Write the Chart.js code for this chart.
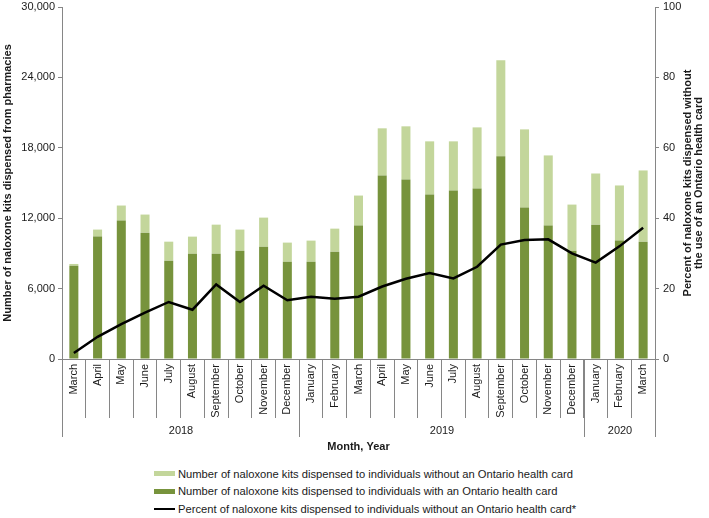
<!DOCTYPE html>
<html>
<head>
<meta charset="utf-8">
<script src="https://cdn.jsdelivr.net/npm/chart.js@4"></script>
<style>
  body { margin: 0; background: #fff; font-family: 'Liberation Sans', Arial, sans-serif; }
  #wrap { position: relative; width: 709px; height: 456px; }
  #legend { position: absolute; left: 154px; top: 465px; font-size: 11.2px; color: #1a1a1a; }
  #legend .row { height: 17.5px; display: flex; align-items: center; }
  #legend .sw { width: 21px; margin-right: 3px; }
</style>
</head>
<body>
<div id="wrap"><canvas id="naloxone-chart" width="709" height="456"></canvas></div>
<div id="legend"></div>
<script>
const months = ['March', 'April', 'May', 'June', 'July', 'August', 'September', 'October', 'November', 'December',
  'January', 'February', 'March', 'April', 'May', 'June', 'July', 'August', 'September', 'October', 'November', 'December',
  'January', 'February', 'March'];
const yearLabels = ['2018', '2019', '2020'];
const yearMonthCounts = [10, 12, 3];

// kits dispensed to people with an Ontario health card (dark bars)
const withCard = [7950, 10430, 11800, 10770, 8380, 8970, 8970, 9230, 9570, 8290,
  8290, 9150, 11370, 15640, 15300, 14020, 14360, 14530, 17270, 12910, 11370, 9230,
  11450, 10090, 10000];
// kits dispensed to people without an Ontario health card (light bars, stacked)
const withoutCard = [150, 600, 1280, 1540, 1620, 1460, 2480, 1800, 2480, 1630,
  1800, 1960, 2560, 4020, 4530, 4530, 4190, 5210, 8200, 6660, 5980, 3930,
  4360, 4700, 6070];
// percent without a health card (line, right axis)
const pctWithout = [1.7, 6.3, 9.9, 13.2, 16.2, 14.0, 21.2, 16.2, 20.8, 16.7,
  17.7, 17.1, 17.7, 20.6, 22.8, 24.4, 22.9, 26.2, 32.5, 33.8, 34.0, 30.0,
  27.4, 32.0, 37.3];

const leftTicks = [0, 6000, 12000, 18000, 24000, 30000];
const rightTicks = [0, 20, 40, 60, 80, 100];

const DARK = '#77933C';
const LIGHT = '#C3D69B';
const AXIS = '#868686';
const TEXT = '#1a1a1a';
const FONT = "'Liberation Sans', Arial, sans-serif";

const seriesNames = [
  'Number of naloxone kits dispensed to individuals without an Ontario health card',
  'Number of naloxone kits dispensed to individuals with an Ontario health card',
  'Percent of naloxone kits dispensed to individuals without an Ontario health card*'
];

// year row + right axis title, drawn from the scales
const extraLabels = {
  id: 'extraLabels',
  afterDraw(chart) {
    const ctx = chart.ctx;
    const x = chart.scales.x;
    const bottom = chart.chartArea.bottom;
    const half = (x.getPixelForValue(1) - x.getPixelForValue(0)) / 2;
    ctx.save();
    ctx.strokeStyle = AXIS;
    ctx.lineWidth = 1;
    ctx.fillStyle = TEXT;
    ctx.font = '11px ' + FONT;
    ctx.textAlign = 'center';
    ctx.textBaseline = 'middle';
    let start = 0;
    yearLabels.forEach((year, i) => {
      const end = start + yearMonthCounts[i] - 1;
      const l = Math.round(x.getPixelForValue(start) - half) + 0.5;
      const r = Math.round(x.getPixelForValue(end) + half) + 0.5;
      ctx.beginPath();
      ctx.moveTo(l, bottom); ctx.lineTo(l, bottom + 78);
      ctx.moveTo(r, bottom); ctx.lineTo(r, bottom + 78);
      ctx.stroke();
      ctx.fillText(year, (l + r) / 2, bottom + 72);
      start = end + 1;
    });

    // right title reads bottom-to-top
    const y2 = chart.scales.y2;
    const cy = (chart.chartArea.top + chart.chartArea.bottom) / 2;
    ctx.font = 'bold 11px ' + FONT;
    ctx.translate(y2.right - 21, cy);
    ctx.rotate(-Math.PI / 2);
    ctx.fillText('Percent of naloxone kits dispensed without', 0, 0);
    ctx.fillText('the use of an Ontario health card', 0, 11);
    ctx.restore();
  }
};

document.addEventListener('DOMContentLoaded', () => {
  const ctx = document.getElementById('naloxone-chart').getContext('2d');
  new Chart(ctx, {
    type: 'bar',
    data: {
      labels: months,
      datasets: [
        {
          type: 'line',
          label: seriesNames[2],
          data: pctWithout,
          yAxisID: 'y2',
          borderColor: '#000',
          borderWidth: 2.5,
          pointRadius: 0,
          tension: 0,
          order: 0
        },
        {
          label: seriesNames[1],
          data: withCard,
          backgroundColor: DARK,
          stack: 'kits',
          categoryPercentage: 1,
          barPercentage: 0.38,
          order: 1
        },
        {
          label: seriesNames[0],
          data: withoutCard,
          backgroundColor: LIGHT,
          stack: 'kits',
          categoryPercentage: 1,
          barPercentage: 0.38,
          order: 1
        }
      ]
    },
    options: {
      responsive: false,
      animation: false,
      layout: { padding: { top: 7, left: 0, right: 0, bottom: 0 } },
      plugins: {
        legend: { display: false },
        tooltip: { enabled: false }
      },
      scales: {
        x: {
          stacked: true,
          grid: { offset: true, drawOnChartArea: false, tickLength: 59, color: AXIS },
          border: { color: AXIS },
          ticks: {
            autoSkip: false, minRotation: 90, maxRotation: 90, padding: -54,
            color: TEXT, font: { family: FONT, size: 11 }
          },
          title: {
            display: true, text: 'Month, Year', color: TEXT,
            font: { family: FONT, size: 11, weight: 'bold' },
            padding: { top: 0, bottom: 2.4 }
          },
          afterFit: s => { s.height = 97; }
        },
        y: {
          stacked: true,
          min: 0, max: 30000,
          afterBuildTicks: s => { s.ticks = leftTicks.map(v => ({ value: v })); },
          grid: { drawOnChartArea: false, tickLength: 4, color: AXIS },
          border: { color: AXIS },
          ticks: {
            padding: 3, color: TEXT, font: { family: FONT, size: 11 },
            callback: v => v.toLocaleString('en-US')
          },
          title: {
            display: true, text: 'Number of naloxone kits dispensed from pharmacies', color: TEXT,
            font: { family: FONT, size: 11, weight: 'bold' },
            padding: { top: 1, bottom: 0 }
          },
          afterFit: s => { s.width = 62; s.paddingTop = 0; s.paddingBottom = 0; }
        },
        y2: {
          position: 'right',
          min: 0, max: 100,
          afterBuildTicks: s => { s.ticks = rightTicks.map(v => ({ value: v })); },
          grid: { drawOnChartArea: false, tickLength: 4, color: AXIS },
          border: { color: AXIS },
          ticks: { padding: 4, color: TEXT, font: { family: FONT, size: 11 } },
          afterFit: s => { s.width = 54; s.paddingTop = 0; s.paddingBottom = 0; }
        }
      }
    },
    plugins: [extraLabels]
  });

  // legend below the chart, stacked like the original
  const legend = document.getElementById('legend');
  const swatches = [
    `<span class="sw" style="height:5px;background:${LIGHT}"></span>`,
    `<span class="sw" style="height:5px;background:${DARK}"></span>`,
    `<span class="sw" style="height:2.5px;background:#000"></span>`
  ];
  legend.innerHTML = seriesNames.map((name, i) =>
    `<div class="row">${swatches[i]}<span>${name}</span></div>`).join('');
});
</script>
</body>
</html>
